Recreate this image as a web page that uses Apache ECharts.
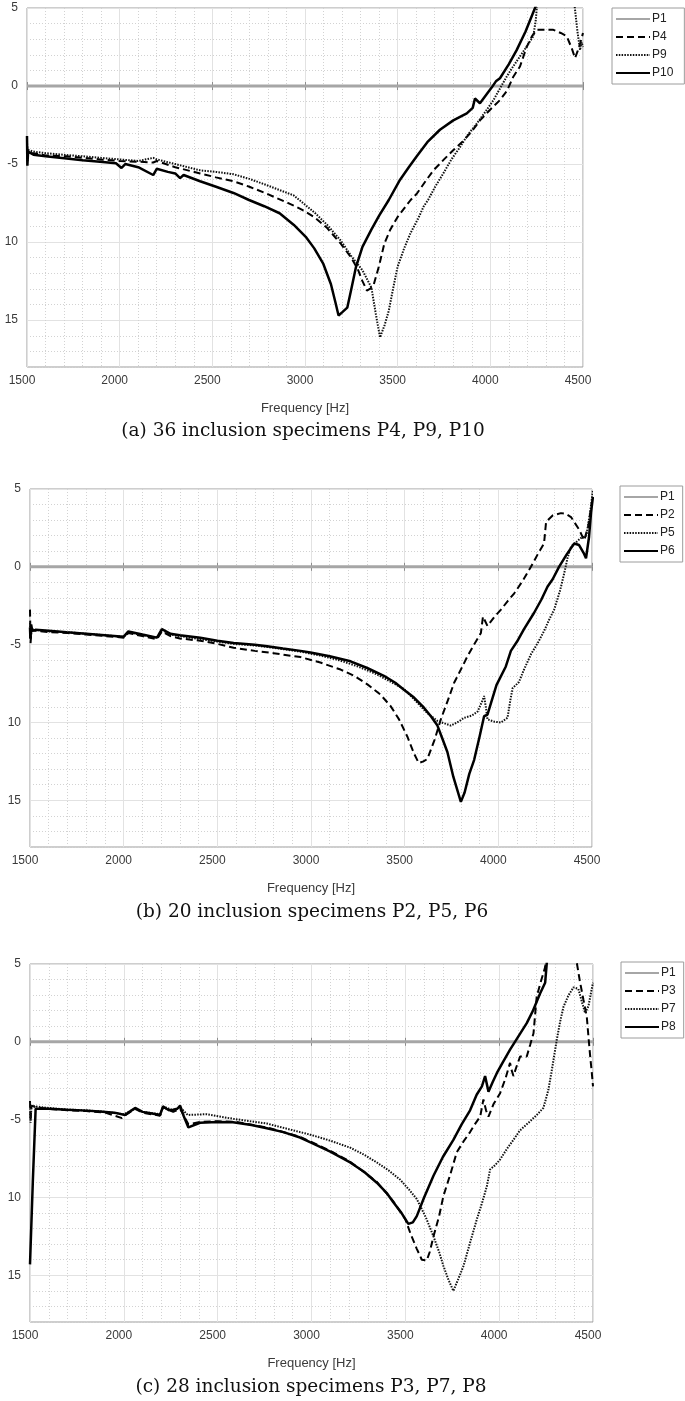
<!DOCTYPE html>
<html>
<head>
<meta charset="utf-8">
<script src="https://cdn.jsdelivr.net/npm/echarts@6/dist/echarts.min.js"></script>
<style>
html,body{margin:0;padding:0;background:#fff;}
#chart{width:685px;height:1401px;}
</style>
</head>
<body>
<div id="chart"></div>
<script>
// ---------- data (frequency [Hz], value) ----------
const xTickLabels = {1500:'1500',2000:'2000',2500:'2500',3000:'3000',3500:'3500',4000:'4000',4500:'4500'};
const yTickLabels = {'5':'5','0':'0','-5':'-5','-10':'10','-15':'15'};
const captions = ['(a) 36 inclusion specimens P4, P9, P10','(b) 20 inclusion specimens P2, P5, P6','(c) 28 inclusion specimens P3, P7, P8'];

const P1 = [[1500,0],[4500,0]];

// panel (a)
const P4 = [[1500,-3.8],[1505,-4.3],[1535,-4.3],[1600,-4.45],[1714,-4.5],[1894,-4.7],[2000,-4.8],[2100,-4.85],[2181,-4.9],[2200,-4.8],[2300,-5.2],[2434,-5.6],[2520,-5.85],[2614,-6.1],[2700,-6.45],[2794,-6.9],[2910,-7.5],[2980,-7.9],[3051,-8.4],[3120,-9.1],[3193,-10.1],[3250,-11.0],[3287,-11.8],[3310,-12.5],[3334,-13.1],[3350,-13.0],[3369,-12.8],[3400,-11.5],[3428,-10.1],[3460,-9.2],[3499,-8.4],[3570,-7.3],[3603,-6.9],[3650,-6.1],[3693,-5.4],[3750,-4.7],[3801,-4.1],[3855,-3.5],[3900,-2.9],[3944,-2.2],[4000,-1.5],[4052,-0.9],[4090,-0.3],[4124,0.6],[4160,1.25],[4196,2.5],[4225,3.2],[4250,3.6],[4300,3.6],[4340,3.6],[4380,3.4],[4412,3.2],[4440,2.4],[4457,1.8],[4470,2.2],[4484,2.7],[4500,3.4]];
const P9 = [[1500,-3.5],[1503,-4.8],[1508,-4.1],[1535,-4.2],[1600,-4.3],[1714,-4.42],[1800,-4.5],[1894,-4.6],[2000,-4.7],[2100,-4.8],[2181,-4.6],[2200,-4.7],[2300,-5.0],[2434,-5.4],[2520,-5.5],[2614,-5.65],[2700,-5.95],[2794,-6.35],[2860,-6.65],[2938,-7.0],[3000,-7.6],[3051,-8.1],[3120,-8.9],[3193,-9.9],[3250,-10.9],[3310,-11.8],[3358,-12.9],[3385,-14.8],[3405,-16.1],[3430,-15.3],[3452,-14.4],[3475,-13.0],[3499,-11.6],[3535,-10.4],[3570,-9.4],[3610,-8.5],[3641,-7.7],[3664,-7.3],[3700,-6.5],[3746,-5.6],[3790,-4.7],[3837,-3.9],[3880,-3.1],[3927,-2.4],[3970,-1.7],[4017,-0.9],[4050,-0.2],[4088,0.6],[4120,1.2],[4160,1.9],[4200,2.6],[4232,3.2],[4245,4.2],[4250,4.9],[4255,5.6],[4450,5.6],[4457,4.9],[4470,3.5],[4484,2.3],[4492,2.8],[4500,2.5]];
const P10 = [[1500,-3.2],[1502,-5.1],[1506,-4.2],[1535,-4.4],[1600,-4.5],[1714,-4.64],[1800,-4.75],[1894,-4.85],[1980,-4.95],[2010,-5.25],[2030,-5.0],[2100,-5.2],[2181,-5.7],[2200,-5.3],[2260,-5.5],[2300,-5.6],[2326,-5.9],[2345,-5.7],[2434,-6.1],[2520,-6.45],[2614,-6.85],[2698,-7.3],[2780,-7.7],[2863,-8.15],[2940,-8.9],[3004,-9.66],[3050,-10.4],[3099,-11.4],[3140,-12.7],[3165,-13.9],[3181,-14.7],[3200,-14.5],[3228,-14.2],[3250,-13.0],[3275,-11.6],[3310,-10.3],[3358,-9.2],[3400,-8.3],[3452,-7.3],[3513,-6.0],[3560,-5.2],[3603,-4.5],[3660,-3.6],[3728,-2.8],[3800,-2.2],[3873,-1.75],[3905,-1.4],[3917,-0.8],[3944,-1.1],[3975,-0.6],[4007,-0.1],[4030,0.3],[4052,0.5],[4100,1.4],[4142,2.3],[4190,3.5],[4241,5.0],[4260,5.6]];

// panel (b)
const P2 = [[1500,-2.75],[1503,-4.9],[1508,-4.1],[1530,-4.1],[1600,-4.2],[1700,-4.25],[1800,-4.35],[1900,-4.45],[2000,-4.55],[2025,-4.25],[2100,-4.45],[2178,-4.65],[2204,-4.15],[2250,-4.45],[2300,-4.6],[2409,-4.75],[2500,-4.95],[2587,-5.2],[2700,-5.4],[2800,-5.55],[2944,-5.8],[3050,-6.15],[3158,-6.6],[3230,-7.0],[3301,-7.55],[3370,-8.2],[3425,-8.95],[3470,-9.8],[3514,-10.9],[3550,-12.0],[3575,-12.6],[3600,-12.5],[3621,-12.35],[3660,-11.1],[3693,-9.8],[3730,-8.6],[3764,-7.45],[3800,-6.6],[3835,-5.75],[3870,-5.0],[3907,-4.25],[3918,-3.2],[3930,-3.5],[3942,-3.8],[3980,-3.2],[4014,-2.75],[4050,-2.2],[4085,-1.7],[4130,-0.9],[4174,0.0],[4210,0.8],[4244,1.5],[4255,2.9],[4290,3.3],[4334,3.45],[4360,3.4],[4388,3.2],[4431,2.4],[4458,1.7],[4480,2.6],[4500,4.2]];
const P5 = [[1500,-3.6],[1504,-4.6],[1510,-4.0],[1530,-4.05],[1600,-4.15],[1700,-4.2],[1800,-4.3],[1900,-4.4],[2000,-4.5],[2025,-4.2],[2100,-4.4],[2178,-4.55],[2204,-4.05],[2250,-4.35],[2300,-4.45],[2409,-4.65],[2500,-4.8],[2587,-4.95],[2700,-5.05],[2800,-5.2],[2944,-5.45],[3050,-5.7],[3150,-6.0],[3250,-6.4],[3350,-6.9],[3420,-7.35],[3496,-7.85],[3550,-8.5],[3621,-9.4],[3675,-9.9],[3746,-10.2],[3780,-10.0],[3818,-9.7],[3860,-9.55],[3889,-9.3],[3915,-8.6],[3924,-8.3],[3933,-9.0],[3942,-9.8],[3980,-9.95],[4014,-10.0],[4049,-9.7],[4065,-8.5],[4076,-7.8],[4110,-7.4],[4137,-6.6],[4175,-5.6],[4210,-4.9],[4245,-4.1],[4275,-3.3],[4298,-2.75],[4330,-1.5],[4352,-0.4],[4370,0.6],[4388,1.3],[4441,1.85],[4470,2.0],[4490,3.5],[4505,4.9]];
const P6 = [[1500,-3.9],[1502,-4.6],[1506,-3.7],[1512,-4.1],[1530,-4.05],[1600,-4.1],[1696,-4.2],[1800,-4.3],[1900,-4.4],[1999,-4.5],[2025,-4.15],[2100,-4.35],[2178,-4.55],[2204,-4.0],[2250,-4.3],[2300,-4.4],[2409,-4.55],[2500,-4.75],[2587,-4.9],[2700,-5.0],[2766,-5.1],[2850,-5.25],[2944,-5.4],[2997,-5.5],[3100,-5.75],[3211,-6.07],[3300,-6.5],[3389,-7.0],[3450,-7.45],[3496,-7.9],[3550,-8.4],[3603,-9.05],[3640,-9.6],[3675,-10.2],[3700,-11.0],[3728,-11.9],[3760,-13.5],[3800,-15.1],[3820,-14.5],[3845,-13.3],[3871,-12.4],[3900,-10.9],[3924,-9.6],[3942,-9.5],[3990,-7.6],[4040,-6.4],[4067,-5.4],[4100,-4.8],[4137,-4.0],[4191,-2.95],[4230,-2.1],[4263,-1.26],[4290,-0.8],[4324,0.0],[4365,0.8],[4405,1.5],[4431,1.4],[4455,0.9],[4468,0.55],[4484,1.9],[4495,3.5],[4505,4.5]];

// panel (c)
const P3 = [[1500,-3.8],[1503,-5.1],[1508,-4.1],[1530,-4.2],[1600,-4.3],[1700,-4.4],[1800,-4.45],[1900,-4.55],[1990,-4.9],[2010,-4.7],[2060,-4.3],[2100,-4.55],[2193,-4.75],[2209,-4.2],[2263,-4.5],[2300,-4.3],[2344,-5.3],[2406,-5.15],[2500,-5.1],[2600,-5.15],[2762,-5.5],[2939,-6.1],[3100,-7.0],[3206,-7.7],[3348,-9.0],[3436,-10.25],[3500,-11.4],[3530,-12.4],[3561,-13.3],[3588,-14.0],[3614,-14.05],[3630,-13.5],[3650,-12.5],[3680,-11.2],[3703,-9.9],[3740,-8.5],[3774,-7.1],[3810,-6.4],[3845,-5.8],[3870,-5.3],[3899,-4.8],[3916,-3.7],[3930,-4.4],[3943,-4.8],[3970,-4.0],[4005,-3.3],[4035,-2.3],[4058,-1.35],[4066,-1.8],[4076,-2.2],[4095,-1.5],[4112,-0.94],[4147,-0.94],[4165,-0.2],[4183,0.55],[4200,2.9],[4218,3.7],[4245,4.8],[4254,5.6],[4410,5.6],[4414,5.06],[4430,3.9],[4449,2.7],[4467,1.6],[4476,0.3],[4485,-0.94],[4493,-1.9],[4500,-2.86]];
const P7 = [[1500,-3.9],[1503,-5.2],[1508,-4.1],[1530,-4.15],[1600,-4.25],[1700,-4.35],[1800,-4.4],[1900,-4.5],[2000,-4.65],[2060,-4.3],[2100,-4.5],[2193,-4.65],[2209,-4.15],[2263,-4.4],[2300,-4.2],[2340,-4.7],[2441,-4.65],[2584,-4.95],[2762,-5.25],[2939,-5.8],[2992,-5.96],[3100,-6.35],[3206,-6.8],[3280,-7.25],[3348,-7.75],[3410,-8.25],[3472,-8.85],[3520,-9.5],[3561,-10.1],[3610,-11.3],[3650,-12.5],[3680,-13.5],[3703,-14.4],[3730,-15.3],[3756,-16.0],[3780,-15.3],[3810,-14.4],[3845,-12.9],[3881,-11.4],[3910,-10.3],[3934,-9.3],[3952,-8.2],[3980,-7.9],[4005,-7.56],[4040,-6.9],[4076,-6.3],[4110,-5.7],[4165,-5.1],[4200,-4.7],[4236,-4.24],[4262,-3.1],[4285,-1.5],[4307,0.13],[4325,1.3],[4343,2.26],[4370,3.0],[4396,3.5],[4422,3.4],[4440,2.6],[4458,1.85],[4476,2.3],[4490,3.2],[4500,3.8]];
const P8 = [[1500,-14.3],[1515,-9.0],[1530,-4.3],[1600,-4.3],[1696,-4.36],[1800,-4.42],[1873,-4.47],[1950,-4.55],[2006,-4.7],[2030,-4.5],[2060,-4.25],[2100,-4.5],[2150,-4.6],[2193,-4.7],[2209,-4.15],[2240,-4.4],[2263,-4.36],[2285,-4.3],[2300,-4.1],[2320,-4.8],[2344,-5.5],[2406,-5.2],[2500,-5.15],[2582,-5.17],[2680,-5.35],[2762,-5.55],[2850,-5.8],[2939,-6.15],[2992,-6.45],[3100,-7.05],[3206,-7.75],[3280,-8.35],[3348,-9.05],[3400,-9.7],[3436,-10.3],[3480,-11.0],[3516,-11.7],[3540,-11.6],[3561,-11.2],[3600,-10.0],[3650,-8.6],[3700,-7.4],[3756,-6.3],[3800,-5.3],[3845,-4.4],[3880,-3.4],[3908,-2.86],[3925,-2.2],[3943,-3.2],[3965,-2.6],[3988,-2.0],[4020,-1.3],[4058,-0.5],[4100,0.3],[4147,1.2],[4180,2.0],[4218,3.1],[4245,3.8],[4254,5.1],[4260,5.6]];

// ---------- layout ----------
const panels = [
  {grid:{left:27, top:8, width:556, height:359}, legend:{left:612, top:8, pr:11}, names:['P1','P4','P9','P10'], data:[P1,P4,P9,P10], cap:{x:303, y:431}},
  {grid:{left:30, top:489, width:562, height:358}, legend:{left:620, top:486, pr:8}, names:['P1','P2','P5','P6'], data:[P1,P2,P5,P6], cap:{x:312, y:912}},
  {grid:{left:30, top:964, width:563, height:358}, legend:{left:621, top:962, pr:8}, names:['P1','P3','P7','P8'], data:[P1,P3,P7,P8], cap:{x:311, y:1387}}
];

const styles = [
  {color:'#a6a6a6', width:3, type:'solid'},
  {color:'#000', width:2, type:[7,4]},
  {color:'#111', width:2, type:[1.5,1.3]},
  {color:'#000', width:2.5, type:'solid'}
];

const sans = '"Liberation Sans", Arial, sans-serif';
const minorC = '#d2d2d2', majorC = '#e2e2e2', T = 'rgba(0,0,0,0)';

const grid = [], xAxis = [], yAxis = [], series = [], legend = [], graphic = [];
panels.forEach((p, i) => {
  grid.push(Object.assign({show:true, borderColor:'#9c9c9c', borderWidth:1, backgroundColor:'#fff'}, p.grid));
  xAxis.push({
    gridIndex:i, type:'value', min:1500, max:4500, interval:500,
    axisLine:{show:false},
    axisTick:{show:true, inside:true, length:4, lineStyle:{color:'#8c8c8c'}},
    axisLabel:{formatter:v => xTickLabels[v] || '', fontSize:12, fontFamily:sans, color:'#3a3a3a', margin:8, padding:[0,10,0,0]},
    splitLine:{show:true, lineStyle:{color:majorC, width:1}},
    minorTick:{show:false, splitNumber:5},
    minorSplitLine:{show:true, lineStyle:{color:minorC, width:1, type:[1,2]}},
    name:'Frequency [Hz]', nameLocation:'middle', nameGap:35,
    nameTextStyle:{fontSize:13, fontFamily:sans, color:'#3a3a3a'}
  });
  xAxis.push({
    gridIndex:i, type:'value', min:1500, max:4500, interval:500, position:'top',
    axisLine:{show:false}, axisLabel:{show:false}, splitLine:{show:false},
    axisTick:{show:true, inside:true, length:4, lineStyle:{color:'#8c8c8c'}}
  });
  // labelled axis with dotted minor grid lines (1 unit)
  yAxis.push({
    gridIndex:i, type:'value', min:-18, max:5, interval:1,
    axisLine:{show:false}, axisTick:{show:false},
    axisLabel:{formatter:v => yTickLabels[String(v)] || '', fontSize:12, fontFamily:sans, color:'#3a3a3a', margin:9, padding:[0,0,8,0]},
    splitLine:{show:true, lineStyle:{color:[minorC,minorC,minorC,T,minorC], width:1, type:[1,2]}}
  });
  // major solid grid lines every 5 units
  yAxis.push({
    gridIndex:i, type:'value', min:-18, max:5, interval:1,
    axisLine:{show:false}, axisTick:{show:false}, axisLabel:{show:false},
    splitLine:{show:true, lineStyle:{color:[T,T,T,majorC,T], width:1, type:'solid'}}
  });
  p.names.forEach((n, k) => {
    const s = styles[k];
    series.push({
      name:n, type:'line', xAxisIndex:2*i, yAxisIndex:2*i, data:p.data[k],
      symbol:'none', smooth:false, clip:true, animation:false, z: k===0 ? 2 : 3 + k,
      lineStyle:{color:s.color, width:s.width, type:s.type}, itemStyle:{color:s.color}
    });
  });
  legend.push({
    data:p.names, orient:'vertical', left:p.legend.left, top:p.legend.top,
    itemWidth:34, itemHeight:14, itemGap:6, padding:[5,p.legend.pr,5,3],
    borderColor:'#9c9c9c', borderWidth:1, backgroundColor:'#fff', selectedMode:false,
    itemStyle:{opacity:0},
    textStyle:{fontSize:12, fontFamily:sans, color:'#222', padding:[0,0,0,-3]}
  });
  graphic.push({
    type:'text', x:p.cap.x, y:p.cap.y, silent:true,
    style:{text:captions[i], font:'18.5px "DejaVu Serif", serif', fill:'#111', align:'center', verticalAlign:'middle'}
  });
});

const chart = echarts.init(document.getElementById('chart'), null, {renderer:'canvas'});
chart.setOption({animation:false, grid, xAxis, yAxis, series, legend, graphic});
</script>
</body>
</html>
